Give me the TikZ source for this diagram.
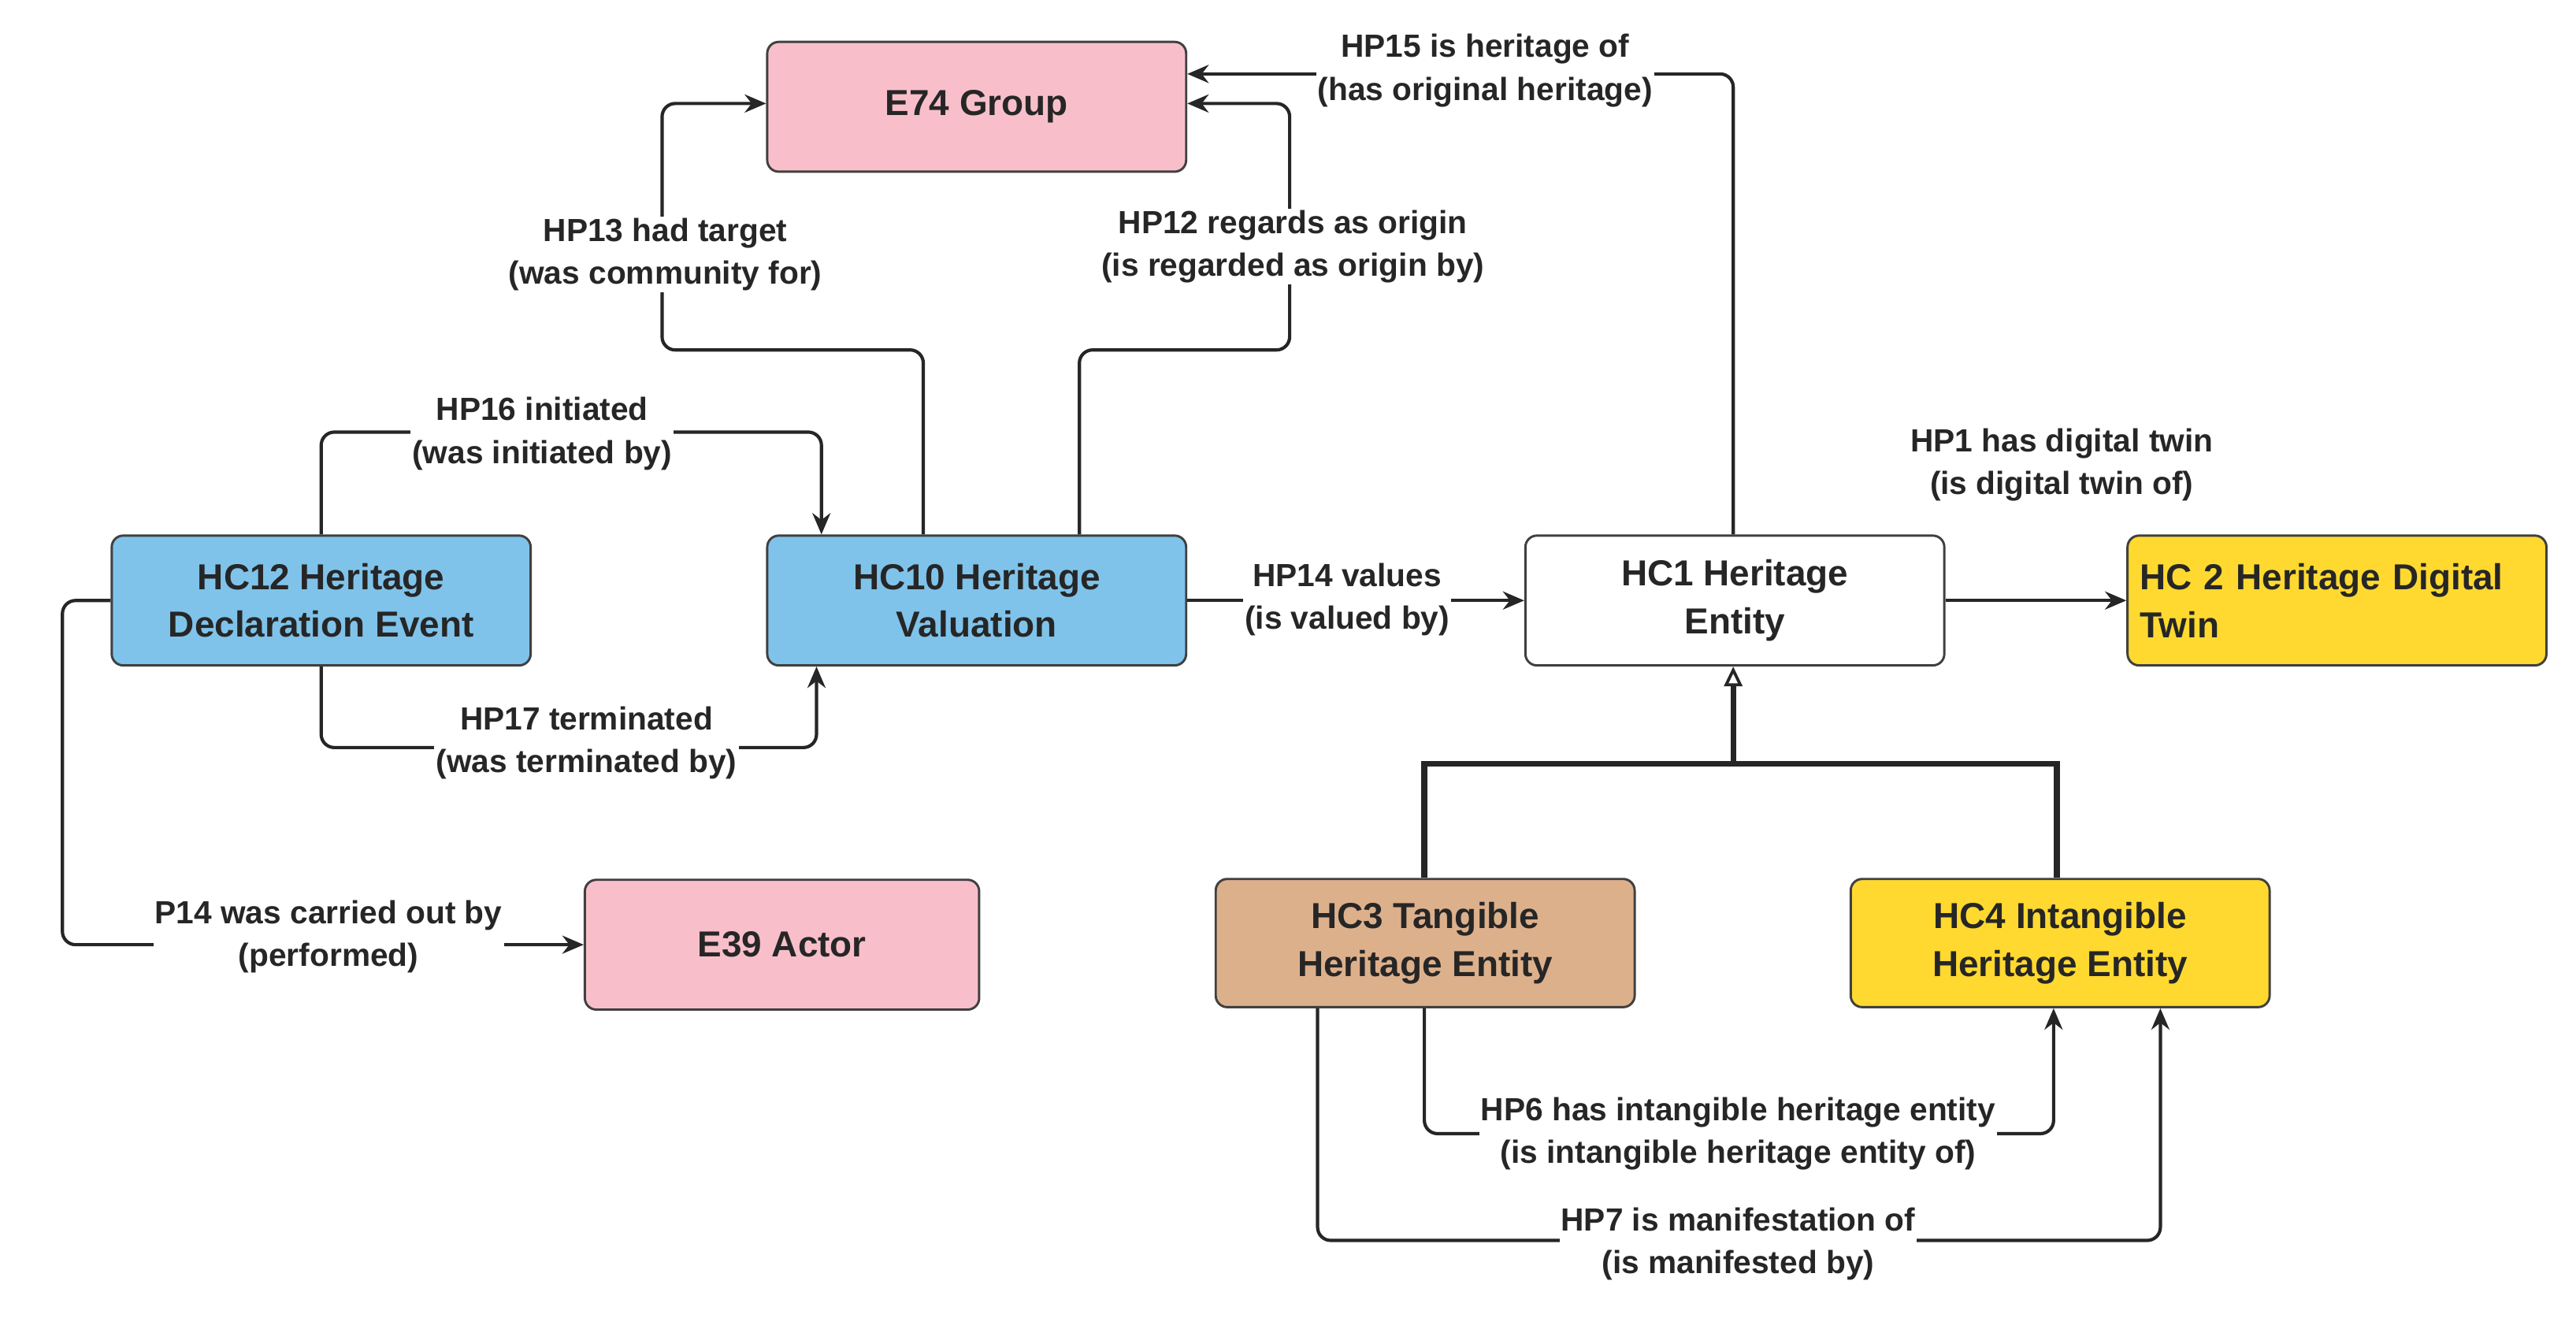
\documentclass[tikz,border=0pt]{standalone}
\usepackage{fontspec}
\setmainfont{Liberation Sans}
\usetikzlibrary{arrows.meta}
\definecolor{pinkc}{HTML}{F8BFCB}
\definecolor{bluec}{HTML}{7FC3EA}
\definecolor{tanc}{HTML}{DDB08C}
\definecolor{yelc}{HTML}{FFD92F}
\begin{document}
\begin{tikzpicture}[x=1pt,y=-1pt,
 box/.style={draw=black!75,line width=1.4pt,rounded corners=7pt,minimum width=255pt,minimum height=79pt,font=\fontsize{22}{29}\selectfont\bfseries,align=center,text=black!85},
 lbl/.style={fill=white,font=\fontsize{19.5}{26}\selectfont\bfseries,align=center,text=black!85,inner sep=1pt},
 con/.style={draw=black!85,line width=2pt,rounded corners=8pt,-{Stealth[length=13pt,width=11pt]}}]
\useasboundingbox (0,0) rectangle (1568,802);
\node[box,fill=pinkc] (e74) at (594.5,65) {E74 Group};
\node[box,fill=bluec] (hc12) at (195.5,365.5) {HC12 Heritage\\Declaration Event};
\node[box,fill=bluec] (hc10) at (594.5,365.5) {HC10 Heritage\\Valuation};
\node[box,fill=white] (hc1) at (1056,365.5) {HC1 Heritage\\Entity};
\node[box,fill=yelc,align=left,text width=240pt] (hc2) at (1422.5,365.5) {HC 2 Heritage Digital\\Twin};
\node[box,fill=pinkc,minimum width=240pt] (e39) at (476,575) {E39 Actor};
\node[box,fill=tanc,minimum height=78pt] (hc3) at (867.5,574) {HC3 Tangible\\Heritage Entity};
\node[box,fill=yelc,minimum height=78pt] (hc4) at (1254,574) {HC4 Intangible\\Heritage Entity};
\coordinate (j) at (1055,465);
% HC12 -> HC10
\draw[con] (hc12.north) |- (500,263) -- (hc10.north -| 500,0);
\node[lbl] at (330,264) {HP16 initiated\\(was initiated by)};
\draw[con] (hc12.south) |- (497,455) -- (hc10.south -| 497,0);
\node[lbl] at (357,452) {HP17 terminated\\(was terminated by)};
\draw[con] (hc12.west) -| (38,575) -- (e39.west);
\node[lbl] at (200,570) {P14 was carried out by\\(performed)};
% HC10 -> E74
\draw[con] (hc10.north -| 562,0) |- (403,213) |- (e74.west |- 0,63);
\node[lbl] at (405,155) {HP13 had target\\(was community for)};
\draw[con] (hc10.north -| 657,0) |- (785,213) |- (e74.east |- 0,63);
\node[lbl] at (787,150) {HP12 regards as origin\\(is regarded as origin by)};
\draw[con] (hc1.north -| 1055,0) |- (e74.east |- 0,45);
\node[lbl] at (904,43) {HP15 is heritage of\\(has original heritage)};
\draw[con,rounded corners=0pt] (hc10.east) -- (hc1.west);
\node[lbl] at (820,365) {HP14 values\\(is valued by)};
\draw[con,rounded corners=0pt] (hc1.east) -- (hc2.west);
\node[lbl,fill=none] at (1255,283) {HP1 has digital twin\\(is digital twin of)};
% inheritance
\draw[line width=3.5pt,black!85] (hc3.north -| 867,0) |- (j) -| (hc4.north -| 1252,0);
\draw[line width=3.5pt,black!85,-{Triangle[open,length=12pt,width=11pt,line width=1.8pt]}] (j) -- (hc1.south -| j);
% HC3 -> HC4
\draw[con] (hc3.south -| 867,0) |- (1250,690) -- (hc4.south -| 1250,0);
\draw[con] (hc3.south -| 802,0) |- (1315,755) -- (hc4.south -| 1315,0);
\node[lbl] at (1058,690) {HP6 has intangible heritage entity\\(is intangible heritage entity of)};
\node[lbl] at (1058,757) {HP7 is manifestation of\\(is manifested by)};
\end{tikzpicture}
\end{document}
